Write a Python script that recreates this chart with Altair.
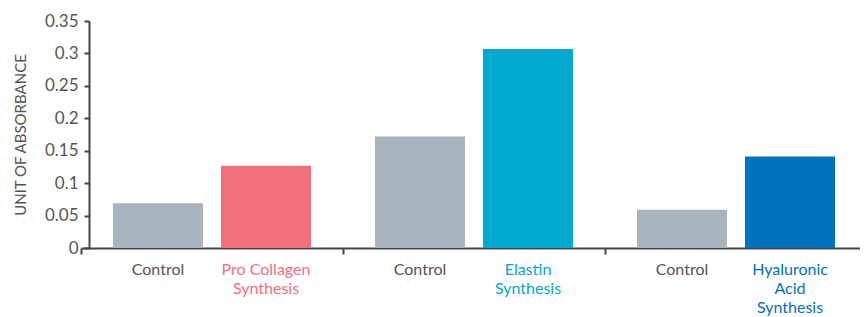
import altair as alt
import pandas as pd

groups = ["Pro Collagen", "Elastin", "Hyaluronic Acid"]
kinds = ["Control", "Active"]
control_values = [0.069, 0.172, 0.0588]
active_values = [0.127, 0.307, 0.141]
active_labels = ["Pro Collagen\nSynthesis", "Elastin\nSynthesis", "Hyaluronic\nAcid\nSynthesis"]
active_colors = ["#F1707B", "#00AACE", "#0072BC"]
control_color = "#A8B5BE"
control_text_color = "#555555"
y_ticks = [0, 0.05, 0.1, 0.15, 0.2, 0.25, 0.3, 0.35]

rows = []
for i, g in enumerate(groups):
    rows.append(dict(group=g, kind="Control", value=control_values[i], label="Control",
                     bar_color=control_color, text_color=control_text_color))
    rows.append(dict(group=g, kind="Active", value=active_values[i], label=active_labels[i],
                     bar_color=active_colors[i], text_color=active_colors[i]))
df = pd.DataFrame(rows)

FONT = "Lato"
x_enc = alt.X("group:N", sort=groups,
              scale=alt.Scale(range=[-8, 778], paddingInner=0, paddingOuter=0),
              axis=alt.Axis(title=None, labels=False, tickBand="extent", domainColor="#444444",
                            domainWidth=2, tickColor="#444444", tickWidth=2, tickSize=6))
xo_enc = alt.XOffset("kind:N", sort=kinds,
                     scale=alt.Scale(paddingInner=0.1667, paddingOuter=0.296))

bars = alt.Chart(df).mark_bar().encode(
    x=x_enc,
    xOffset=xo_enc,
    y=alt.Y("value:Q", scale=alt.Scale(domain=[0, 0.35], nice=False),
            axis=alt.Axis(title="UNIT OF ABSORBANCE", values=y_ticks, format="~g",
                          grid=False, domainColor="#444444", domainWidth=2,
                          tickColor="#444444", tickWidth=2, tickSize=5,
                          labelFontSize=17, labelColor="#555555", labelFont=FONT,
                          labelPadding=6, titleFont=FONT, titleFontSize=15,
                          titleFontWeight="normal", titleColor="#555555", titlePadding=16)),
    color=alt.Color("bar_color:N", scale=None),
)

labels = alt.Chart(df).mark_text(lineBreak="\n", baseline="top", align="center",
                                 fontSize=16, font=FONT, lineHeight=19).encode(
    x=alt.X("group:N", sort=groups),
    xOffset=alt.XOffset("kind:N", sort=kinds),
    y=alt.value(241),
    text="label:N",
    color=alt.Color("text_color:N", scale=None),
)

chart = alt.layer(bars, labels).properties(
    width=771, height=227,
    autosize=alt.AutoSizeParams(type="none"),
    padding={"left": 81, "top": 13, "right": 0, "bottom": 74},
).configure_view(stroke=None)

chart.save("out.html", embed_options={"renderer": "svg", "actions": False})
